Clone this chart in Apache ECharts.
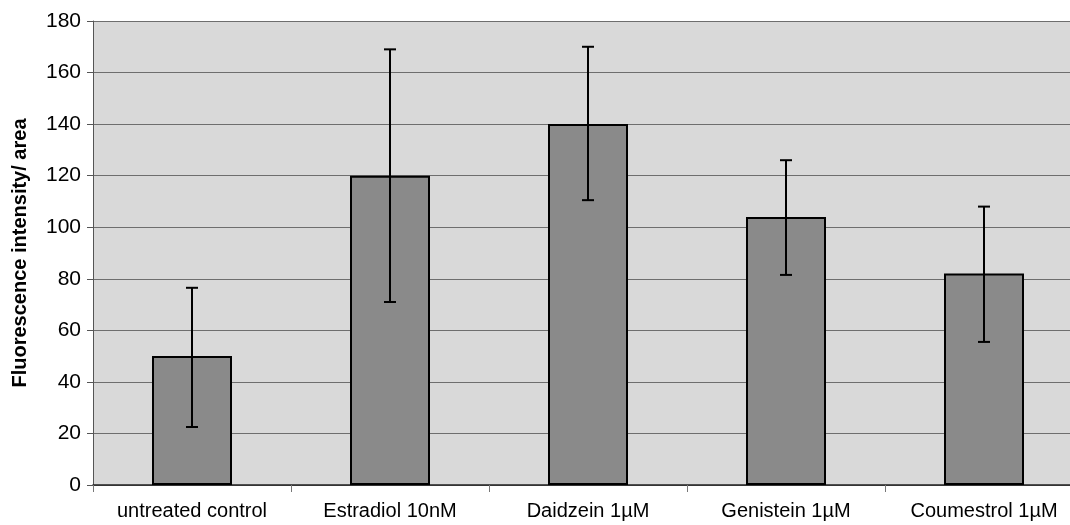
<!DOCTYPE html>
<html>
<head>
<meta charset="utf-8">
<script src="https://cdn.jsdelivr.net/npm/echarts@6/dist/echarts.min.js"></script>
<style>
  html, body { margin: 0; padding: 0; background: #fff; overflow: hidden; }
  #chart { width: 1070px; height: 525px; }
</style>
</head>
<body>
<div id="chart"></div>
<script>
// 荧光强度柱状图 + 误差线
const categories = ['untreated control', 'Estradiol 10nM', 'Daidzein 1µM', 'Genistein 1µM', 'Coumestrol 1µM'];
const means = [50, 120, 140, 104, 82];
const errLow = [22.5, 71, 110.5, 81.5, 55.5];
const errHigh = [76.5, 169, 170, 126, 108];
const yTicks = [0, 20, 40, 60, 80, 100, 120, 140, 160, 180];

const font = 'Liberation Sans, Arial, sans-serif';
const chart = echarts.init(document.getElementById('chart'));

chart.setOption({
  animation: false,
  backgroundColor: '#fff',
  grid: {
    left: 93,
    width: 990,
    top: 21,
    bottom: 40,
    outerBoundsMode: 'none',
    containLabel: false,
    show: true,
    backgroundColor: '#d9d9d9',
    borderWidth: 0,
  },
  xAxis: {
    type: 'category',
    data: categories,
    boundaryGap: true,
    axisLine: { lineStyle: { color: '#222', width: 1.5 } },
    axisTick: { show: true, length: 7, lineStyle: { color: '#777' } },
    axisLabel: {
      color: '#000',
      fontFamily: font,
      fontSize: 20,
      margin: 16,
      interval: 0,
    },
  },
  yAxis: {
    type: 'value',
    min: yTicks[0],
    max: yTicks[yTicks.length - 1],
    interval: 20,
    name: 'Fluorescence intensity/ area',
    nameLocation: 'middle',
    nameGap: 63,
    nameTextStyle: {
      color: '#000',
      fontFamily: font,
      fontSize: 20,
      fontWeight: 'bold',
    },
    axisLine: { show: true, lineStyle: { color: '#555', width: 1 } },
    axisTick: { show: true, length: 6, lineStyle: { color: '#555' } },
    axisLabel: {
      color: '#000',
      fontFamily: font,
      fontSize: 21,
      margin: 12,
    },
    splitLine: { show: true, lineStyle: { color: '#6e6e6e', width: 1 } },
  },
  series: [
    {
      type: 'bar',
      data: means,
      barWidth: 80,
      itemStyle: {
        color: '#8a8a8a',
        borderColor: '#000',
        borderWidth: 2,
      },
      z: 2,
    },
    {
      type: 'custom',
      data: categories.map((c, i) => [i, errLow[i], errHigh[i]]),
      renderItem: function (params, api) {
        const x = api.value(0);
        const lo = api.coord([x, api.value(1)]);
        const hi = api.coord([x, api.value(2)]);
        const half = 6;
        const style = { stroke: '#000', lineWidth: 2 };
        return {
          type: 'group',
          children: [
            { type: 'line', shape: { x1: lo[0], y1: lo[1], x2: hi[0], y2: hi[1] }, style },
            { type: 'line', shape: { x1: hi[0] - half, y1: hi[1], x2: hi[0] + half, y2: hi[1] }, style },
            { type: 'line', shape: { x1: lo[0] - half, y1: lo[1], x2: lo[0] + half, y2: lo[1] }, style },
          ],
        };
      },
      z: 3,
    },
  ],
});
</script>
</body>
</html>
